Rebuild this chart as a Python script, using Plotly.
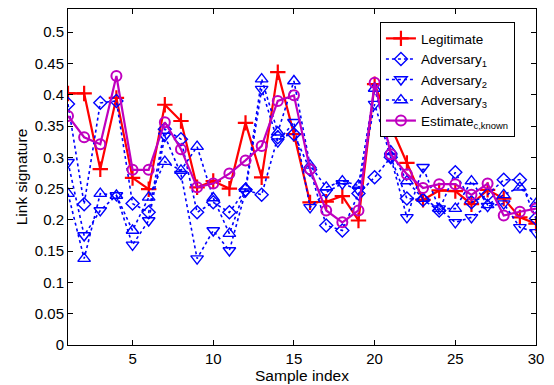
import plotly.graph_objects as go

sample_index = list(range(1, 31))
legitimate = [0.402, 0.402, 0.281, 0.395, 0.267, 0.249, 0.384, 0.358, 0.252, 0.262,
              0.250, 0.355, 0.268, 0.436, 0.337, 0.228, 0.229, 0.238, 0.199, 0.417,
              0.350, 0.291, 0.232, 0.247, 0.246, 0.225, 0.248, 0.234, 0.204, 0.194]
adversary1 = [0.385, 0.225, 0.387, 0.390, 0.226, 0.212, 0.345, 0.329, 0.212, 0.228,
              0.212, 0.248, 0.240, 0.332, 0.337, 0.280, 0.191, 0.183, 0.242, 0.268,
              0.300, 0.234, 0.232, 0.215, 0.276, 0.228, 0.240, 0.264, 0.264, 0.202]
adversary2 = [0.292, 0.175, 0.215, 0.239, 0.160, 0.199, 0.334, 0.273, 0.138, 0.183,
              0.151, 0.245, 0.409, 0.325, 0.356, 0.220, 0.244, 0.258, 0.248, 0.385,
              0.300, 0.204, 0.284, 0.218, 0.196, 0.204, 0.222, 0.226, 0.188, 0.180]
adversary3 = [0.242, 0.138, 0.242, 0.239, 0.183, 0.236, 0.293, 0.279, 0.317, 0.235,
              0.178, 0.250, 0.425, 0.340, 0.422, 0.287, 0.252, 0.262, 0.255, 0.410,
              0.310, 0.262, 0.234, 0.218, 0.218, 0.262, 0.224, 0.240, 0.252, 0.226]
estimate = [0.366, 0.332, 0.321, 0.430, 0.280, 0.280, 0.356, 0.313, 0.252, 0.258,
            0.274, 0.295, 0.318, 0.390, 0.399, 0.281, 0.215, 0.196, 0.215, 0.419,
            0.305, 0.273, 0.251, 0.257, 0.257, 0.240, 0.258, 0.207, 0.213, 0.218]

y_ticks = [0, 0.05, 0.1, 0.15, 0.2, 0.25, 0.3, 0.35, 0.4, 0.45, 0.5]
y_ticktext = ["0", "0.05", "0.1", "0.15", "0.2", "0.25", "0.3", "0.35", "0.4", "0.45", "0.5"]
x_ticks = [5, 10, 15, 20, 25, 30]

BLUE = "#0000FF"
RED = "#FF0000"
MAG = "#BF00BF"
FONT = "Liberation Sans, Arial"

fig = go.Figure()
fig.add_trace(go.Scatter(x=sample_index, y=legitimate, name="Legitimate", mode="lines+markers",
                         line=dict(color=RED, width=2.2),
                         marker=dict(symbol="cross-thin-open", size=11, line=dict(color=RED, width=2.2))))
fig.add_trace(go.Scatter(x=sample_index, y=adversary1, name="Adversary<sub>1</sub>", mode="lines+markers",
                         line=dict(color=BLUE, width=1.6, dash="dot"),
                         marker=dict(symbol="diamond-open", size=10, color=BLUE, line=dict(width=1.4))))
fig.add_trace(go.Scatter(x=sample_index, y=adversary2, name="Adversary<sub>2</sub>", mode="lines+markers",
                         line=dict(color=BLUE, width=1.6, dash="dot"),
                         marker=dict(symbol="triangle-down-open", size=11, color=BLUE, line=dict(width=1.4))))
fig.add_trace(go.Scatter(x=sample_index, y=adversary3, name="Adversary<sub>3</sub>", mode="lines+markers",
                         line=dict(color=BLUE, width=1.6, dash="dot"),
                         marker=dict(symbol="triangle-up-open", size=11, color=BLUE, line=dict(width=1.4))))
fig.add_trace(go.Scatter(x=sample_index, y=estimate, name="Estimate<sub>c,known</sub>", mode="lines+markers",
                         line=dict(color=MAG, width=2.2),
                         marker=dict(symbol="circle-open", size=10, color=MAG, line=dict(width=2))))

axis_common = dict(showline=True, linecolor="black", linewidth=1, mirror="ticks", ticks="inside",
                   ticklen=5, tickcolor="black", showgrid=False, zeroline=False,
                   tickfont=dict(family=FONT, size=15, color="black"))

# page body has an 8px default margin, so the figure is sized to fit the window
fig.update_layout(
    width=546, height=377,
    margin=dict(l=60, r=18, t=1, b=40),
    paper_bgcolor="white", plot_bgcolor="white",
    font=dict(family=FONT, size=15, color="black"),
    xaxis=dict(range=[1, 30], tickvals=x_ticks,
               title=dict(text="Sample index", font=dict(size=15.5), standoff=1), **axis_common),
    yaxis=dict(range=[0, 0.537], tickvals=y_ticks, ticktext=y_ticktext,
               title=dict(text="Link signature", font=dict(size=15.5), standoff=3), **axis_common),
    legend=dict(x=0.955, y=0.961, xanchor="right", yanchor="top",
                bordercolor="black", borderwidth=1, bgcolor="white",
                font=dict(size=13.5), tracegroupgap=0, itemwidth=30),
    showlegend=True,
)

fig.write_html("out.html")
